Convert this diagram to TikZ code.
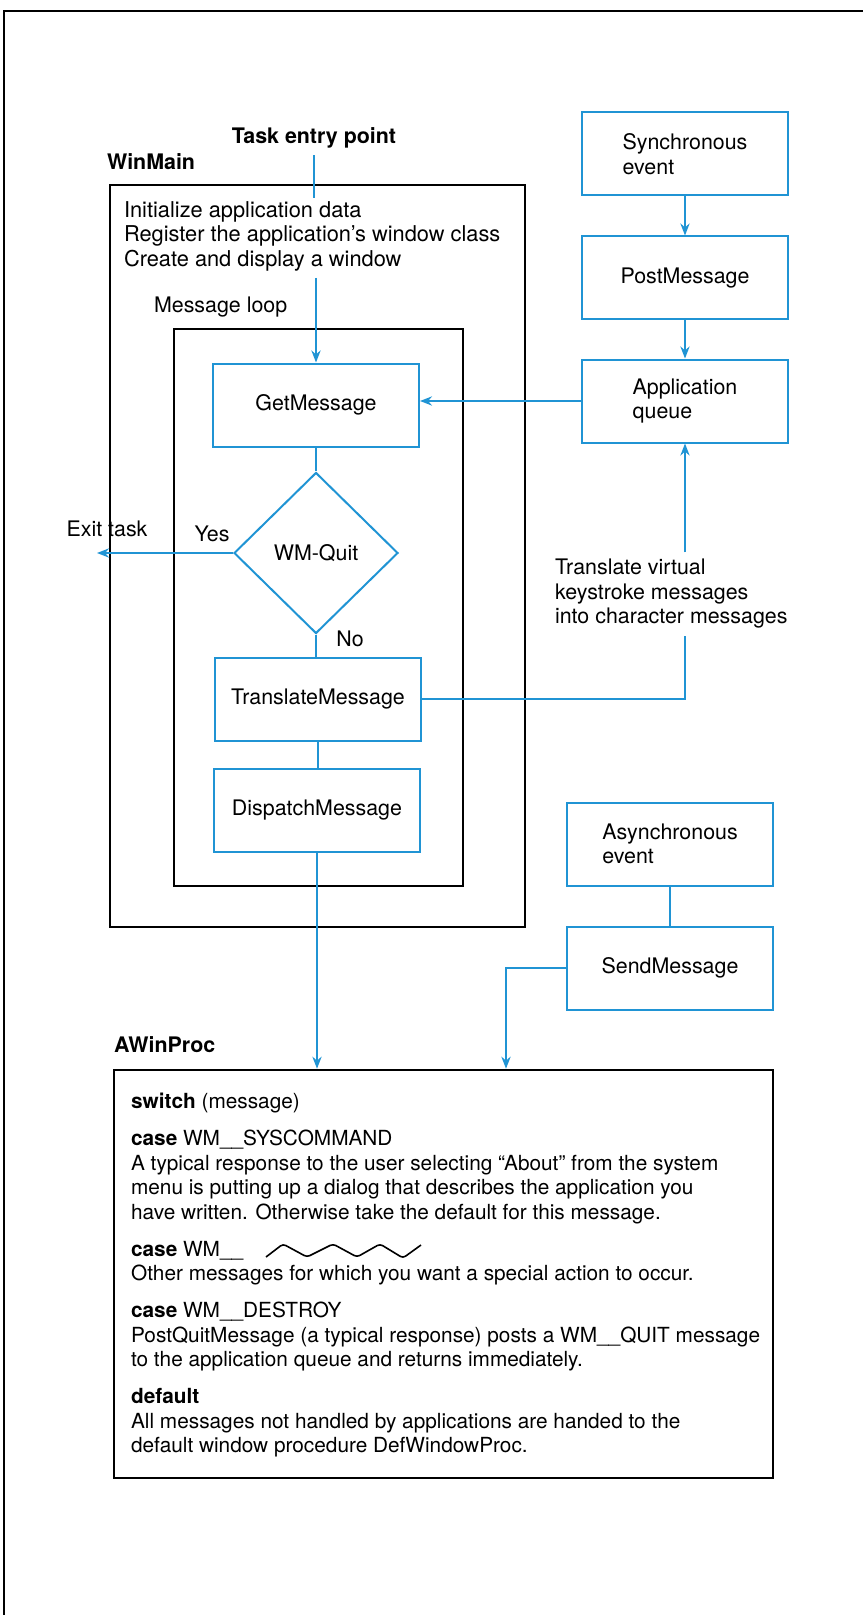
\documentclass[tikz,border=0pt]{standalone}
\usepackage{fontspec}
\setmainfont{TeX Gyre Heros}
\usetikzlibrary{arrows.meta,shapes.geometric}
\definecolor{winblue}{RGB}{32,148,212}

\begin{document}
\begin{tikzpicture}[
  x=0.5pt, y=-0.5pt,
  >={Stealth[length=6pt,width=4.6pt]},
  font=\fontsize{10.7}{12.25}\selectfont,
  proc/.style={draw=winblue, line width=1pt, minimum width=103pt, minimum height=41.5pt, align=left},
  decide/.style={draw=winblue, line width=1pt, diamond, minimum width=82pt, minimum height=80.5pt, inner sep=0pt},
  flow/.style={winblue, line width=1pt},
  frame/.style={draw, line width=1.3pt},
  head/.style={font=\fontsize{10.7}{12.25}\selectfont\bfseries}
]
  \useasboundingbox (0,0) rectangle (863,1615);
  \draw[line width=0.8pt] (4,1615) -- (4,11) -- (863,11);

  % WinMain and its message loop
  \node[head] (entry) at (314,138) {Task entry point};
  \coordinate (entryend) at (314,198);
  \node[head, anchor=west] (winmain) at (100,162) {WinMain};
  \draw[frame] (110,185) rectangle (525,927);
  \node[anchor=west, align=left, font=\fontsize{10.9}{12.25}\selectfont] (setup) at (117,236)
    {Initialize application data\\Register the application's window class\\Create and display a window};
  \node[anchor=west] (looplabel) at (147,307) {Message loop};
  \draw[frame] (174,329) rectangle (463,886);

  \node[proc] (getmsg) at (316,405) {GetMessage};
  \node[decide] (quit) at (316,553) {WM-Quit};
  \node[proc] (xlate) at (318,699) {TranslateMessage};
  \node[proc] (dispatch) at (317,810) {DispatchMessage};

  \node (exit) at (107,529) {Exit task};
  \coordinate (exitend) at (97,553);
  \node (yes) at (212,534) {Yes};
  \node (no) at (350,639) {No};

  % event sources
  \node[proc] (sync) at (685,154) {Synchronous\\event};
  \node[proc] (post) at (685,278) {PostMessage};
  \node[proc] (queue) at (685,401) {Application\\queue};
  \node[anchor=west, align=left] (xlatenote) at (548,594)
    {Translate virtual\\keystroke messages\\into character messages};
  \node[proc] (async) at (670,844) {Asynchronous\\event};
  \node[proc] (send) at (670,968) {SendMessage};

  % window procedure
  \node[head, anchor=west] (awinlabel) at (107,1045) {AWinProc};
  \node[frame, minimum width=329.5pt, minimum height=204pt] (awin) at (443.5,1274) {};
  \node[anchor=north west, align=left, font=\fontsize{10.4}{12.25}\selectfont] (cases) at (124,1086)
    {\textbf{switch} (message)\\[6.25pt]
     \textbf{case} WM\_\_SYSCOMMAND\\
     A typical response to the user selecting ``About'' from the system\\
     menu is putting up a dialog that describes the application you\\
     have written. Otherwise take the default for this message.\\[6.25pt]
     \textbf{case} WM\_\_\\
     Other messages for which you want a special action to occur.\\[6.25pt]
     \textbf{case} WM\_\_DESTROY\\
     PostQuitMessage (a typical response) posts a WM\_\_QUIT message\\
     to the application queue and returns immediately.\\[6.25pt]
     \textbf{default}\\
     All messages not handled by applications are handed to the\\
     default window procedure DefWindowProc.};
  \draw[line width=0.8pt, rounded corners=1.5pt] (266,1257) -- (283,1244) -- (307,1257) -- (333,1244)
    -- (357,1257) -- (380,1244) -- (403,1258) -- (421,1245);

  % connectors
  \draw[flow] (entry.south) -- (entryend);
  \draw[flow,->] (setup.south -| getmsg.north) -- (getmsg.north);
  \draw[flow] (getmsg) -- (quit);
  \draw[flow] (quit) -- (quit |- xlate.north);
  \draw[flow] (xlate.south) -- (xlate.south |- dispatch.north);
  \draw[flow,->] (quit.west) -- (exitend);
  \draw[flow,->] (sync) -- (post);
  \draw[flow,->] (post) -- (queue);
  \draw[flow,->] (queue.west) -- (queue.west -| getmsg.east);
  \draw[flow] (xlate.east) -| (xlatenote.south -| queue.south);
  \draw[flow,->] (xlatenote.north -| queue.south) -- (queue.south);
  \draw[flow] (async) -- (send);
  \draw[flow,->] (dispatch.south) -- (dispatch.south |- awin.north);
  \draw[flow,->] (send.west) -| ([xshift=31.25pt]awin.north);
\end{tikzpicture}
\end{document}
